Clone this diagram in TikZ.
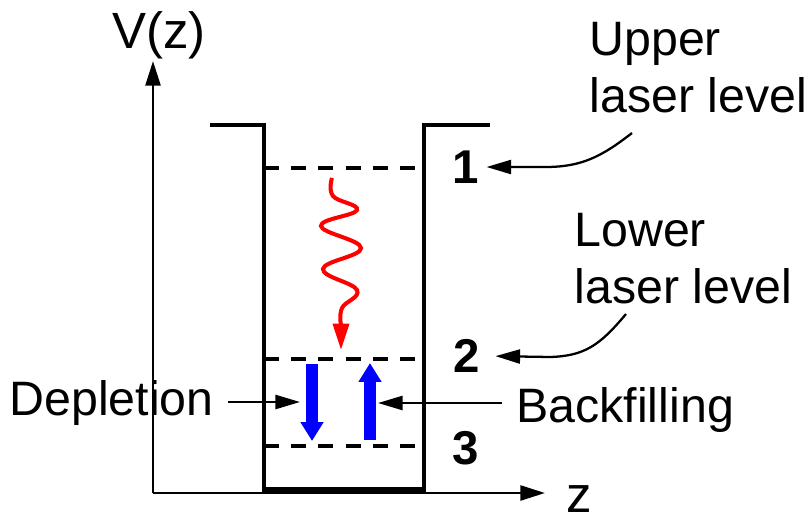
\documentclass[tikz,border=0pt]{standalone}
\usepackage{fontspec}
\setmainfont{Liberation Sans}
\usepackage{xcolor}
\usetikzlibrary{arrows.meta}
\definecolor{photonred}{RGB}{255,0,0}
\definecolor{carrierblue}{RGB}{0,0,255}
\tikzset{
  lbl/.style={font=\fontsize{27.5}{32}\selectfont, inner sep=8pt, align=left},
  axlbl/.style={font=\fontsize{29}{34}\selectfont, inner sep=0pt},
  lvlnum/.style={font=\fontsize{27}{32}\selectfont\bfseries, inner sep=4pt},
  wall/.style={line width=2.3pt},
  level/.style={line width=1.8pt, dash pattern=on 8.5pt off 7pt},
  axis/.style={line width=1.5pt, -{Triangle[length=14pt,width=8.5pt]}},
  pointer/.style={line width=1.3pt, -{Triangle[length=14pt,width=8pt]}},
  carrier/.style={carrierblue, line width=6.8pt, -{Triangle[length=10.8pt,width=12.5pt]}},
  photon/.style={photonred, line width=2.3pt, -{Triangle[length=15pt,width=9pt]}}
}

\begin{document}
\begin{tikzpicture}[x=0.02cm,y=-0.02cm]
  \useasboundingbox (0,0) rectangle (812,518);
  \coordinate (origin) at (153,493);
  \coordinate (vtop) at (153,61);
  \coordinate (ztip) at (545,493);
  \draw[axis] (origin) -- (vtop);
  \draw[axis] (origin) -- (ztip);
  \node[axlbl, anchor=base west] (vz) at (112,48) {V(z)};
  \node[axlbl, anchor=base west] (zl) at (566,512) {z};

  \draw[wall] (210,125) -| (264,490) -| (424,125) -- (490,125);
  \draw[line width=3.4pt] (264,490) -- (424,490);
  \foreach \n/\y in {1/168, 2/359, 3/446} {
    \coordinate (l\n) at (264,\y);
    \coordinate (r\n) at (424,\y);
    \draw[level] (l\n) -- (r\n);
  }
  \node[lvlnum] (one) at (466,167) {1};
  \node[lvlnum] (two) at (467,356) {2};
  \node[lvlnum] (three) at (466,448) {3};

  \draw[photon] plot[smooth, tension=0.7] coordinates {(332,178) (333,196) (357,210) (321,226) (361,248) (323,269) (357,290) (342,308) (341,325)} -- (341,350);

  \coordinate (dtop) at (312,364);
  \coordinate (dbot) at (312,441);
  \coordinate (ubot) at (370,440);
  \coordinate (utop) at (370,363);
  \draw[carrier] (dtop) -- (dbot);
  \draw[carrier] (ubot) -- (utop);

  \node[lbl, anchor=base west] (upper) at (575,112) {Upper\\laser level};
  \node[lbl, anchor=base west] (lower) at (560,303) {Lower\\laser level};
  \node[lbl, anchor=base west] (depl) at (-5,415) {Depletion};
  \node[lbl, anchor=base west] (back) at (502,422) {Backfilling};

  \coordinate (ufoot) at (632,133);
  \coordinate (lfoot) at (626,314);
  \coordinate (dtip) at (300,402);
  \coordinate (btip) at (378,403);
  \draw[pointer] (ufoot) .. controls (600,158) and (580,167) .. (545,167) -- (one.east);
  \draw[pointer, shorten >=4.5pt] (lfoot) .. controls (600,345) and (585,356) .. (550,357) -- (two.east);
  \draw[pointer] (depl.east |- dtip) -- (dtip);
  \draw[pointer] (back.west |- btip) -- (btip);
\end{tikzpicture}
\end{document}
